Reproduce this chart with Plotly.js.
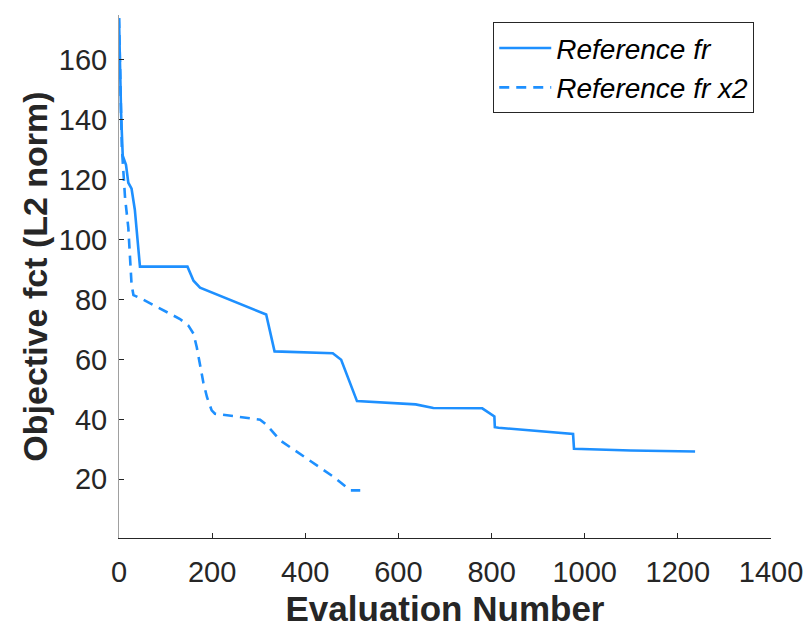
<!DOCTYPE html>
<html>
<head>
<meta charset="utf-8">
<script src="https://cdn.plot.ly/plotly-3.0.1.min.js"></script>
<style>html,body{margin:0;padding:0;background:#fff;}#chart{width:810px;height:628px;}</style>
</head>
<body>
<div id="chart"></div>
<script>
// Series 1: "Reference fr"
const evalRef = [0, 2, 4.5, 8, 15, 20, 27, 34, 45, 147, 160, 174, 316, 334, 459, 477, 511, 637, 675, 780, 806, 807, 815, 975, 977, 1099, 1237];
const objRef  = [174, 157, 142, 128, 125, 119, 117, 110, 91, 91, 86.3, 84, 75, 62.7, 62.1, 59.9, 46.1, 45, 43.8, 43.7, 41, 37.4, 37.2, 35.1, 30.2, 29.6, 29.3];
// Series 2: "Reference fr x2"
const evalRef2 = [0, 4, 6, 13, 20, 27, 31, 49, 131, 149, 160, 167, 181, 189, 199, 206, 303, 318, 346, 461, 479, 497, 518];
const objRef2  = [174, 142, 131, 114, 104, 85, 81.5, 80.2, 73.5, 71.3, 68.6, 64.1, 52.4, 47.4, 43, 41.9, 39.9, 38, 33, 20.8, 18.6, 16.3, 16.3];
const seriesNames = ["Reference fr", "Reference fr x2"];
const xTicks = [0, 200, 400, 600, 800, 1000, 1200, 1400];
const yTicks = [20, 40, 60, 80, 100, 120, 140, 160];

const lineColor = '#1E90FF';
const font = 'Liberation Sans, Arial, sans-serif';

const traces = [
  {x: evalRef, y: objRef, name: seriesNames[0], type: 'scatter', mode: 'lines',
   line: {color: lineColor, width: 2.6}},
  {x: evalRef2, y: objRef2, name: seriesNames[1], type: 'scatter', mode: 'lines',
   line: {color: lineColor, width: 2.6, dash: '10px,7px'}}
];

const layout = {
  width: 810, height: 628,
  margin: {l: 119, r: 39, t: 15, b: 90},
  paper_bgcolor: '#fff', plot_bgcolor: '#fff',
  font: {family: font, color: '#262626'},
  showlegend: true,
  legend: {
    x: 0.574, y: 0.986, xanchor: 'left', yanchor: 'top',
    bgcolor: '#fff', bordercolor: '#262626', borderwidth: 1,
    font: {family: font, size: 28, color: '#000', style: 'italic'},
    itemwidth: 52,
    tracegroupgap: 0
  },
  xaxis: {
    range: [0, 1400], tickvals: xTicks, ticktext: xTicks.map(String),
    showgrid: false, zeroline: false, showline: true, linecolor: '#262626', linewidth: 1,
    ticks: 'inside', ticklen: 5, tickcolor: '#262626', tickwidth: 1,
    ticklabelstandoff: 8,
    tickfont: {family: font, size: 29, color: '#262626'},
    title: {text: 'Evaluation Number', font: {family: font, size: 35, color: '#262626', weight: 'bold'}, standoff: 11}
  },
  yaxis: {
    range: [0.4, 175], tickvals: yTicks, ticktext: yTicks.map(String),
    showgrid: false, zeroline: false, showline: true, linecolor: '#a0a0a0', linewidth: 1,
    ticks: 'inside', ticklen: 5, tickcolor: '#262626', tickwidth: 1,
    ticklabelstandoff: 5,
    tickfont: {family: font, size: 29, color: '#262626'},
    title: {text: 'Objective fct (L2 norm)', font: {family: font, size: 34, color: '#262626', weight: 'bold'}, standoff: 0}
  }
};

Plotly.newPlot('chart', traces, layout, {staticPlot: true, displayModeBar: false});
</script>
</body>
</html>
